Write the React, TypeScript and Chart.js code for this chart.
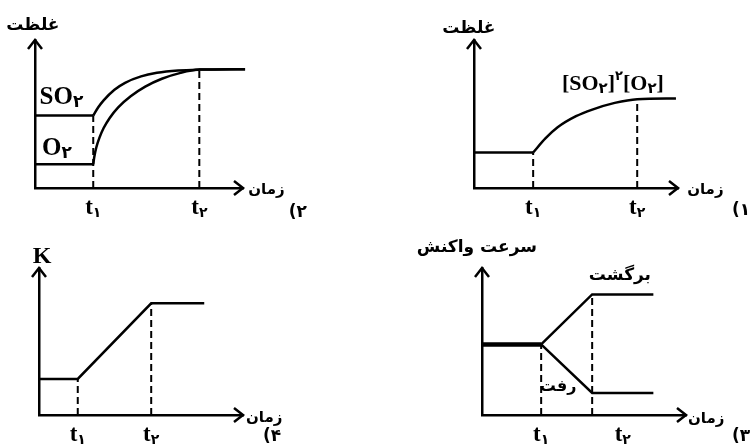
import React, { useEffect, useRef } from 'react';
import { Chart, registerables } from 'chart.js';

Chart.register(...registerables);

const SERIF = "'Liberation Serif', 'DejaVu Serif', serif";
const FA = "'DejaVu Sans', 'Noto Sans', sans-serif";

// ---------- shared ----------
const TICK_NAME = 't';
const TICK_SUBS = ['۱', '۲'];
const X_TITLE = 'زمان';

// ---------- Panel 1 (top right): [SO2]^2[O2] ----------
const p1FlatX = [0, 2.9];
const p1FlatY = [2.4, 2.4];
const p1CurveX = [2.9, 3.5, 4.1, 5.0, 5.8, 6.9, 8.0, 9.9];
const p1CurveY = [2.4, 3.35, 4.1, 4.85, 5.3, 5.75, 6.0, 6.05];
const p1Ticks = [2.9, 8.0];

// ---------- Panel 2 (top left): SO2 and O2 ----------
const p2So2FlatX = [0, 2.8];
const p2So2FlatY = [4.9, 4.9];
const p2O2FlatX = [0, 2.8];
const p2O2FlatY = [1.6, 1.6];
const p2So2CurveX = [2.8, 3.05, 3.31, 3.82, 4.33, 5.1, 5.86, 6.88, 7.9, 10.1];
const p2So2CurveY = [4.9, 5.47, 5.94, 6.64, 7.11, 7.54, 7.78, 7.94, 8.0, 8.03];
const p2O2CurveX = [2.8, 2.85, 2.95, 3.1, 3.3, 3.6, 4.0, 4.6, 5.3, 6.1, 7.0, 7.9, 10.1];
const p2O2CurveY = [1.6, 2.1, 2.75, 3.4, 4.05, 4.75, 5.45, 6.2, 6.85, 7.38, 7.78, 8.0, 8.03];
const p2Ticks = [2.8, 7.9];

// ---------- Panel 3 (bottom right): reaction rates ----------
const p3X = [0, 2.9, 5.4, 8.4];
const p3ForwardY = [4.8, 4.8, 1.5, 1.5];
const p3ReverseY = [4.8, 4.8, 8.2, 8.2];
const p3Ticks = [2.9, 5.4];
const p3TickLabelX = [2.9, 6.9];

// ---------- Panel 4 (bottom left): K ----------
const p4X = [0, 1.9, 5.5, 8.1];
const p4Y = [2.45, 2.45, 7.6, 7.6];
const p4Ticks = [1.9, 5.5];

type Seg = { t: string; size: number; family?: string; dy?: number };
type Label = { segs: Seg[]; x: number; y: number; align: 'left' | 'center' | 'right' };
type Series = { xs: number[]; ys: number[]; curve?: boolean; thickStart?: boolean };
type Panel = {
  left: number; top: number; width: number; height: number;
  padding: { left: number; top: number; right: number; bottom: number };
  series: Series[];
  ticks: number[];
  tickLabelX?: number[];
  labels: Label[];
};

const pts = (xs: number[], ys: number[]) => xs.map((x, i) => ({ x, y: ys[i] }));

function topAt(series: Series[], t: number) {
  let best = 0;
  series.forEach((s) => {
    s.xs.forEach((x, i) => {
      if (Math.abs(x - t) < 1e-9 && s.ys[i] > best) best = s.ys[i];
    });
  });
  return best;
}

function fa(t: string, size = 17): Seg {
  return { t, size, family: FA };
}
function sr(t: string, size = 21, dy = 0): Seg {
  return { t, size, family: SERIF, dy };
}
function sub(t: string, size = 13, dy = 5): Seg {
  return { t, size, family: FA, dy };
}

const PANELS: Panel[] = [
  {
    left: 0, top: 0, width: 375, height: 222,
    padding: { left: 35, top: 40, right: 132, bottom: 34 },
    series: [
      { xs: p2So2FlatX, ys: p2So2FlatY },
      { xs: p2O2FlatX, ys: p2O2FlatY },
      { xs: p2So2CurveX, ys: p2So2CurveY, curve: true },
      { xs: p2O2CurveX, ys: p2O2CurveY, curve: true },
    ],
    ticks: p2Ticks,
    labels: [
      { segs: [fa('غلظت')], x: -0.1, y: 11.0, align: 'center' },
      { segs: [sr('SO', 25), sub('۲', 17, 5)], x: 0.22, y: 6.08, align: 'left' },
      { segs: [sr('O', 25), sub('۲', 17, 5)], x: 0.34, y: 2.64, align: 'left' },
      { segs: [fa(X_TITLE, 15)], x: 10.25, y: -0.14, align: 'left' },
      { segs: [fa('(۲', 17)], x: 12.2, y: -1.69, align: 'left' },
    ],
  },
  {
    left: 375, top: 0, width: 375, height: 222,
    padding: { left: 99, top: 40, right: 72, bottom: 34 },
    series: [
      { xs: p1FlatX, ys: p1FlatY },
      { xs: p1CurveX, ys: p1CurveY, curve: true },
    ],
    ticks: p1Ticks,
    labels: [
      { segs: [fa('غلظت')], x: -0.25, y: 10.75, align: 'center' },
      {
        segs: [sr('[SO', 22), sub('۲', 15, 5), sr(']', 22), sub('۲', 13, -8), sr('[O', 22), sub('۲', 15, 5), sr(']', 22)],
        x: 6.81, y: 7.0, align: 'center',
      },
      { segs: [fa(X_TITLE, 15)], x: 10.45, y: -0.14, align: 'left' },
      { segs: [fa('(۱', 17)], x: 12.65, y: -1.55, align: 'left' },
    ],
  },
  {
    left: 0, top: 222, width: 375, height: 222,
    padding: { left: 39, top: 46, right: 132, bottom: 29 },
    series: [{ xs: p4X, ys: p4Y }],
    ticks: p4Ticks,
    labels: [
      { segs: [sr('K', 24)], x: 0.15, y: 10.75, align: 'center' },
      { segs: [fa(X_TITLE, 15)], x: 10.15, y: -0.2, align: 'left' },
      { segs: [fa('(۴', 17)], x: 10.98, y: -1.5, align: 'left' },
    ],
  },
  {
    left: 375, top: 222, width: 375, height: 222,
    padding: { left: 107, top: 46, right: 64, bottom: 29 },
    series: [
      { xs: p3X, ys: p3ForwardY, thickStart: true },
      { xs: p3X, ys: p3ReverseY, thickStart: true },
    ],
    ticks: p3Ticks,
    tickLabelX: p3TickLabelX,
    labels: [
      { segs: [fa('سرعت واکنش', 17)], x: -0.25, y: 11.36, align: 'center' },
      { segs: [fa('برگشت', 17)], x: 6.76, y: 9.46, align: 'center' },
      { segs: [fa('رفت', 16)], x: 3.73, y: 1.9, align: 'center' },
      { segs: [fa(X_TITLE, 15)], x: 10.1, y: -0.27, align: 'left' },
      { segs: [fa('(۳', 17)], x: 12.25, y: -1.5, align: 'left' },
    ],
  },
];

function drawRich(ctx: CanvasRenderingContext2D, segs: Seg[], x: number, y: number, align: string) {
  const widths = segs.map((s) => {
    ctx.font = `bold ${s.size}px ${s.family ?? SERIF}`;
    return ctx.measureText(s.t).width;
  });
  const total = widths.reduce((a, b) => a + b, 0);
  let cx = align === 'left' ? x : align === 'center' ? x - total / 2 : x - total;
  ctx.textAlign = 'left';
  ctx.textBaseline = 'middle';
  ctx.fillStyle = '#000';
  segs.forEach((s, i) => {
    ctx.font = `bold ${s.size}px ${s.family ?? SERIF}`;
    ctx.fillText(s.t, cx, y + (s.dy ?? 0));
    cx += widths[i];
  });
}

function makeDecor(panel: Panel) {
  return {
    id: 'decor',
    afterDraw(chart: any) {
      const ctx: CanvasRenderingContext2D = chart.ctx;
      const { left, right, top, bottom } = chart.chartArea;
      const xs = chart.scales.x;
      const ys = chart.scales.y;
      ctx.save();
      // arrowheads
      ctx.strokeStyle = '#000';
      ctx.lineWidth = 2.5;
      ctx.lineJoin = 'miter';
      ctx.beginPath();
      ctx.moveTo(right - 9, bottom - 7);
      ctx.lineTo(right, bottom);
      ctx.lineTo(right - 9, bottom + 7);
      ctx.stroke();
      ctx.beginPath();
      ctx.moveTo(left - 7, top + 9);
      ctx.lineTo(left, top);
      ctx.lineTo(left + 7, top + 9);
      ctx.stroke();
      // tick labels
      const labelXs = panel.tickLabelX ?? panel.ticks;
      labelXs.forEach((t, i) => {
        const px = xs.getPixelForValue(t);
        drawRich(ctx, [sr(TICK_NAME, 23), sub(TICK_SUBS[i], 14, 5)], px, bottom + 20, 'center');
      });
      // labels
      panel.labels.forEach((l) => {
        drawRich(ctx, l.segs, xs.getPixelForValue(l.x), ys.getPixelForValue(l.y), l.align);
      });
      ctx.restore();
    },
  };
}

function PanelChart({ panel }: { panel: Panel }) {
  const ref = useRef<HTMLCanvasElement>(null);
  useEffect(() => {
    const datasets: any[] = [];
    panel.ticks.forEach((t) => {
      datasets.push({
        data: [{ x: t, y: 0 }, { x: t, y: topAt(panel.series, t) }],
        borderColor: '#000',
        borderWidth: 2,
        borderDash: [7, 4],
        pointRadius: 0,
        tension: 0,
        clip: false,
      });
    });
    panel.series.forEach((s) => {
      datasets.push({
        data: pts(s.xs, s.ys),
        borderColor: '#000',
        borderWidth: 2.5,
        pointRadius: 0,
        tension: 0,
        cubicInterpolationMode: s.curve ? 'monotone' : 'default',
        clip: false,
        borderCapStyle: 'butt',
        segment: s.thickStart
          ? { borderWidth: (c: any) => (c.p0DataIndex === 0 ? 4 : 2.5) }
          : undefined,
      });
    });
    const chart = new Chart(ref.current as HTMLCanvasElement, {
      type: 'line',
      data: { datasets },
      options: {
        animation: false,
        responsive: false,
        maintainAspectRatio: false,
        events: [],
        layout: { padding: panel.padding },
        plugins: { legend: { display: false }, tooltip: { enabled: false } },
        scales: {
          x: {
            type: 'linear', min: 0, max: 10,
            grid: { display: false, drawTicks: false },
            ticks: { display: false },
            border: { display: true, color: '#000', width: 2.5 },
          },
          y: {
            type: 'linear', min: 0, max: 10,
            grid: { display: false, drawTicks: false },
            ticks: { display: false },
            border: { display: true, color: '#000', width: 2.5 },
          },
        },
      } as any,
      plugins: [makeDecor(panel)],
    });
    return () => chart.destroy();
  }, [panel]);
  return (
    <canvas
      ref={ref}
      width={panel.width}
      height={panel.height}
      style={{ position: 'absolute', left: panel.left, top: panel.top, width: panel.width, height: panel.height }}
    />
  );
}

export default function App() {
  return (
    <div style={{ position: 'absolute', left: 0, top: 0, width: 750, height: 444, background: '#fff', overflow: 'hidden' }}>
      {PANELS.map((p, i) => (
        <PanelChart key={i} panel={p} />
      ))}
    </div>
  );
}
